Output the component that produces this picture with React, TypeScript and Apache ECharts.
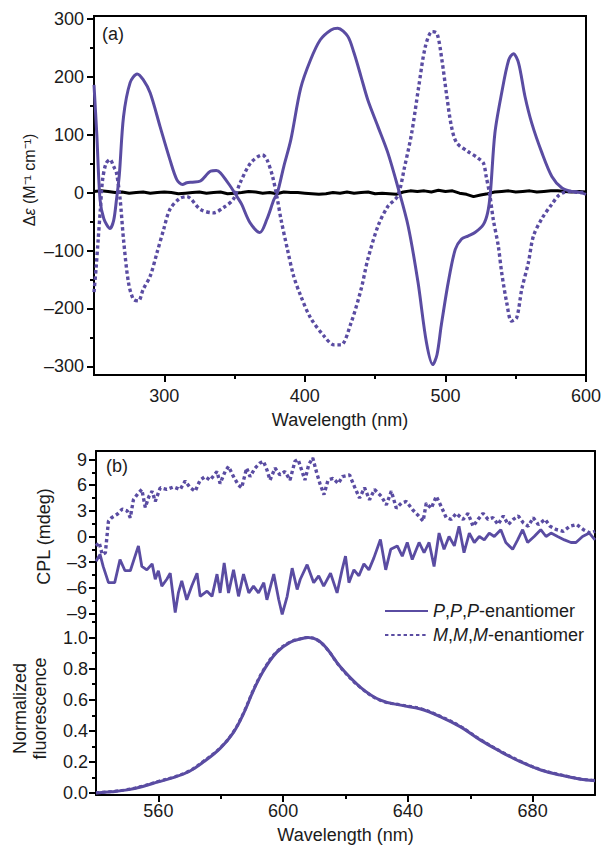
import React, { useEffect, useRef } from 'react';
import * as echarts from 'echarts';

const PURPLE = '#5a4ca2';
const FONT = '"Liberation Sans", Arial, Helvetica, sans-serif';
const TXT = '#1b1b1b';

// ---------- Panel (a): CD spectra ----------
const cdTicksX = [300, 400, 500, 600];
const cdMinorX = [350, 450, 550];
const cdTicksY = [-300, -200, -100, 0, 100, 200, 300];
const cdMinorY = [-250, -150, -50, 50, 150, 250];

const cdWaveP = [250, 252, 254.3, 257, 261.4, 264, 266, 268, 271, 275.7, 280.7, 285, 290, 297, 304, 309, 313, 316, 320, 325.7, 333, 337, 340, 347, 352, 355, 361, 368, 373, 378, 380.5, 385, 390, 397, 404, 411, 418.6, 423.4, 430.5, 435, 440, 444.8, 452, 459, 466, 473.5, 480.5, 486.5, 491, 494, 497, 502, 507, 511.5, 516, 521, 527, 530, 532, 535.2, 540, 545, 548.4, 552, 556.6, 561.4, 568.6, 575.7, 582.9, 590, 596, 600];
const cdValP = [186, 100, -12, -45, -62, -48, -12, 30, 131, 190, 205, 195, 172, 114, 57, 22, 14, 17, 18, 20, 37, 38, 34, 11, -8, -20, -52, -69, -46, -12, 0, 45, 91, 180, 229, 264, 281, 284, 270, 241, 200, 160, 114, 69, 11, -58, -155, -259, -297, -280, -230, -155, -98, -80, -75, -69, -55, -35, 0, 103, 172, 229, 240, 224, 166, 120, 69, 28, 8, 2, 0, -3];

const cdWaveM = [250, 251.5, 253, 254.5, 256, 258.5, 261.4, 264, 266, 268.6, 271, 274.5, 278, 281.6, 285, 290, 294.8, 299.5, 304, 311, 316, 325.7, 335, 342, 349, 354, 361.4, 369.8, 373, 377, 380.5, 383, 387.6, 392, 397, 404, 413.7, 420.8, 425.7, 433, 440, 444.8, 452, 459, 466, 471, 476, 481, 485.7, 490.5, 494, 497.5, 501, 504.3, 508, 516, 523, 527, 529, 531.7, 534, 537.6, 540, 543.6, 547, 550.7, 554.3, 559, 562.6, 568.6, 575.7, 580.5, 585, 590, 595, 600];
const cdValM = [-172, -130, -80, -30, 20, 50, 57, 45, 34, -12, -81, -155, -184, -187, -167, -144, -104, -64, -29, -10, -7, -29, -35, -26, -12, 17, 51, 65, 57, 28, -12, -46, -98, -144, -178, -216, -248, -263, -263, -224, -167, -115, -58, -24, -6, 45, 103, 183, 252, 278, 275, 229, 166, 114, 86, 71, 60, 51, 28, -6, -46, -92, -138, -190, -222, -216, -167, -121, -75, -45, -20, -5, 1, 2, 0, 1];

const cdWaveBase = [250, 255, 260, 265, 270, 275, 280, 285, 290, 295, 300, 305, 310, 315, 320, 325, 330, 335, 340, 345, 350, 355, 360, 365, 370, 375, 380, 385, 390, 395, 400, 405, 410, 415, 420, 425, 430, 435, 440, 445, 450, 455, 460, 465, 470, 475, 480, 485, 490, 495, 500, 505, 510, 515, 520, 525, 530, 535, 540, 545, 550, 555, 560, 565, 570, 575, 580, 585, 590, 595, 600];
const cdValBase = [2, 3, 2, 0, 1, -1, 0, 1, -1, 0, 1, 0, -2, -1, 0, 1, -1, 0, 1, -2, -1, 0, 2, 1, -1, 0, -2, 1, 0, 0, -1, -2, -3, -2, 0, -1, 1, -1, 0, 1, -2, -1, -2, -3, 1, 3, 2, 3, 1, 4, 2, 3, -1, -3, -7, -4, -2, 1, 2, 3, 1, 2, 3, 1, 2, 3, 3, 2, 1, 2, 1];

// ---------- Panel (b): CPL ----------
const cplTicksX = [560, 600, 640, 680];
const cplMinorX = [580, 620, 660];
const cplTicksY = [-9, -6, -3, 0, 3, 6, 9];
const cplMinorY = [-7.5, -4.5, -1.5, 1.5, 4.5, 7.5];

const cplWaveP = [540, 541.3, 542.3, 544, 546, 547.7, 549.3, 551, 553.6, 554.7, 556.3, 558, 559, 560, 561.1, 562.7, 563.8, 565.4, 566.4, 567.5, 569.1, 570.7, 572.4, 573.4, 575.6, 577.2, 578.8, 579.8, 581.1, 582.5, 584.1, 585.7, 587.3, 589, 590.5, 592.1, 593.8, 594.8, 597, 598.6, 599.7, 601.3, 602.9, 604.5, 605.5, 607.7, 609.8, 611.4, 613, 615.2, 617.3, 618.9, 620, 621.1, 622.7, 624.3, 625.9, 627.5, 629.1, 631.2, 632.9, 634.5, 636.6, 638.2, 639.8, 641.4, 643.6, 645.2, 646.8, 648.4, 650, 651.6, 653.2, 654.9, 656.4, 658, 659.7, 661.3, 662.9, 664.5, 666.1, 667.7, 669.8, 671.4, 673.6, 675.2, 676.8, 678.4, 680.5, 682.6, 684.3, 685.9, 688, 690.2, 692.3, 693.9, 696, 698.2, 700];
const cplValP = [-2.9, -2.1, -3.5, -5.4, -5.4, -2.7, -4.0, -4.0, -1.1, -3.5, -3.9, -3.2, -5.0, -4.0, -5.8, -5.0, -4.3, -8.9, -6.6, -5.2, -7.4, -5.8, -4.3, -7.0, -6.4, -7.0, -4.4, -6.6, -3.1, -6.6, -3.9, -7.0, -4.4, -6.6, -5.8, -6.6, -5.4, -7.4, -4.4, -7.4, -9.1, -7.0, -3.7, -6.2, -5.0, -3.3, -5.4, -4.6, -5.8, -4.3, -6.6, -3.9, -2.3, -5.4, -3.9, -4.6, -3.2, -3.9, -2.5, -0.35, -3.9, -1.5, -1.1, -2.3, -0.7, -2.7, -0.7, -1.9, -0.7, -3.5, 0.4, -1.5, 0.0, -1.1, 1.2, -1.9, 0.4, -0.7, 0, -0.4, 0.4, 0, 0.8, -0.7, -1.5, -0.4, 0.8, -0.7, 0, 0.8, 0, 0.4, 0, -0.4, -0.7, -0.7, 0, 0.4, -0.4];

const cplWaveM = [540, 541, 542, 543, 544, 545, 546.8, 548.4, 550, 551, 552, 553.6, 554.7, 555.8, 557, 558, 559, 560.6, 562.7, 564.9, 567, 568.6, 570.2, 571.8, 573.4, 575, 576.6, 578.8, 579.8, 581.4, 582.5, 584.1, 585.7, 586.7, 588.3, 589.4, 591, 592.6, 593.7, 594.8, 595.8, 597.4, 599, 600.6, 602.2, 603.8, 604.8, 607, 608.2, 609.5, 610.8, 611.8, 613.1, 614.4, 616, 617.7, 619, 621.3, 622.9, 624.5, 626.1, 627.7, 629.3, 631.5, 633.1, 634.7, 636.3, 637.9, 639.5, 641.6, 643.2, 644.9, 645.9, 647.5, 649.1, 650.7, 652.3, 653.9, 655.5, 657.7, 659.3, 660.9, 662.5, 664.1, 665.7, 667.3, 668.9, 670.6, 672.2, 673.8, 675.4, 677, 678.6, 680.2, 681.8, 684, 685.6, 687.7, 689.8, 692, 694.1, 696.3, 698.4, 700];
const cplValM = [-1.1, -0.7, -2.1, -1.9, 1.8, 2.2, 2.6, 3.2, 3.0, 2.2, 4.3, 5.1, 5.5, 3.4, 4.7, 5.3, 4.1, 5.7, 5.5, 5.8, 5.5, 6.5, 5.7, 5.3, 6.6, 7.0, 6.6, 7.6, 6.2, 7.6, 8.2, 7.0, 6.0, 5.7, 8.0, 7.0, 8.0, 8.6, 8.8, 7.8, 6.6, 8.0, 7.2, 7.6, 6.6, 8.8, 9.0, 6.6, 8.4, 9.2, 7.4, 6.2, 4.9, 6.6, 6.8, 6.2, 7.0, 7.2, 5.8, 4.5, 5.7, 4.3, 5.5, 4.7, 3.7, 5.3, 3.3, 3.9, 4.1, 3.1, 2.5, 1.8, 3.9, 3.3, 4.7, 3.5, 2.2, 2.0, 2.7, 2.0, 2.7, 1.2, 2.0, 2.7, 2.0, 2.2, 1.4, 2.4, 1.4, 2.0, 2.4, 1.6, 1.2, 2.2, 1.4, 2.0, 1.2, 0.8, 0.6, 1.2, 1.4, 0.8, 0.4, 0.6];

// ---------- Panel (b): fluorescence ----------
const fluTicksY = [0, 0.2, 0.4, 0.6, 0.8, 1.0];
const fluMinorY = [0.1, 0.3, 0.5, 0.7, 0.9, 1.1];
const fluWave = [540, 545, 550, 555, 560, 565, 570, 574.5, 579.8, 584.1, 587.3, 590.5, 593.8, 598, 602.3, 605.5, 608, 611, 614, 618.4, 624.8, 631.2, 637.7, 644.1, 650.5, 656.9, 663.3, 669.8, 676.2, 682.6, 689, 695.4, 700];
const fluP = [0.0, 0.008, 0.02, 0.042, 0.072, 0.1, 0.14, 0.2, 0.287, 0.39, 0.51, 0.66, 0.79, 0.906, 0.97, 0.99, 1.0, 0.985, 0.93, 0.81, 0.68, 0.597, 0.565, 0.54, 0.49, 0.425, 0.34, 0.265, 0.2, 0.148, 0.115, 0.088, 0.079];
const fluM = [0.002, 0.01, 0.022, 0.045, 0.075, 0.103, 0.143, 0.205, 0.29, 0.395, 0.515, 0.665, 0.795, 0.91, 0.972, 0.992, 1.0, 0.983, 0.928, 0.808, 0.678, 0.595, 0.567, 0.543, 0.493, 0.428, 0.343, 0.268, 0.203, 0.15, 0.117, 0.09, 0.081];

const NAME_P = 'P,P,P-enantiomer';
const NAME_M = 'M,M,M-enantiomer';

const zip = (xs: number[], ys: number[]) => xs.map((x, i) => [x, ys[i]]);
const fmtNeg = (v: number) => (v < 0 ? '\u2013' + Math.abs(v) : String(v));

export default function App() {
  const ref = useRef<HTMLDivElement>(null);
  useEffect(() => {
    document.body.style.margin = '0';
    const chart = echarts.init(ref.current as HTMLDivElement, null, { renderer: 'svg' });
    const lbl = { fontFamily: FONT, fontSize: 18, color: TXT };
    const axLine = { show: true, onZero: false, lineStyle: { color: '#000', width: 2 } };
    const noLine = { show: false, onZero: false };
    const ticks = (vals: number[], len: number) => ({
      show: true, customValues: vals, length: len, inside: false,
      lineStyle: { color: '#000', width: 2 },
    });
    const none = { show: false };
    const dotted = [3.4, 2.8];

    const majorX = (grid: number, min: number, max: number, vals: number[], margin: number, nameGap: number) => ({
      type: 'value', gridIndex: grid, position: 'bottom', min, max,
      axisLine: axLine, axisTick: ticks(vals, 7),
      axisLabel: { ...lbl, customValues: vals, margin },
      splitLine: none,
      name: 'Wavelength (nm)', nameLocation: 'middle', nameGap, nameTextStyle: lbl,
    });
    const minorAx = (grid: number, pos: string, min: number, max: number, vals: number[]) => ({
      type: 'value', gridIndex: grid, position: pos, min, max,
      axisLine: noLine, axisTick: ticks(vals, 4), axisLabel: none, splitLine: none,
    });
    const frameAx = (grid: number, pos: string, min: number, max: number) => ({
      type: 'value', gridIndex: grid, position: pos, min, max,
      axisLine: axLine, axisTick: none, axisLabel: none, splitLine: none,
    });
    const lineSeries = (name: string, xi: number, yi: number, data: number[][], width: number, dash: boolean, smooth: number | boolean) => ({
      type: 'line', name, xAxisIndex: xi, yAxisIndex: yi, data,
      symbol: 'none', showSymbol: false, smooth,
      lineStyle: { color: PURPLE, width, type: dash ? dotted : 'solid', cap: 'butt' },
      itemStyle: { color: PURPLE },
    });

    const option: any = {
      animation: false,
      backgroundColor: '#fff',
      textStyle: { fontFamily: FONT },
      title: [
        { text: '(a)', left: 102, top: 25, padding: 0, textStyle: { ...lbl, fontWeight: 'normal' } },
        { text: '(b)', left: 106, top: 457, padding: 0, textStyle: { ...lbl, fontWeight: 'normal' } },
      ],
      graphic: [
        {
          type: 'text', x: 29, y: 180, rotation: Math.PI / 2,
          style: {
            text: '{g|\u0394}{e|\u03b5} (M\u207b\u00b9 cm\u207b\u00b9)',
            fontFamily: FONT, fontSize: 16, fill: TXT, align: 'center', verticalAlign: 'middle',
            rich: {
              g: { fontFamily: FONT, fontSize: 16, fill: TXT },
              e: { fontFamily: FONT, fontSize: 16, fill: TXT, fontStyle: 'italic' },
            },
          },
        },
      ],
      legend: {
        data: [NAME_P, NAME_M],
        orient: 'vertical', left: 384, top: 602, padding: 0,
        itemWidth: 43, itemHeight: 16, itemGap: 6,
        selectedMode: false,
        itemStyle: { opacity: 0 },
        textStyle: { ...lbl, rich: { i: { ...lbl, fontStyle: 'italic' } } },
        formatter: (n: string) => n.replace(/[PM](?=[,-])/g, (m) => '{i|' + m + '}'),
      },
      grid: [
        { left: 94, top: 16, width: 492, height: 359, show: true, borderColor: '#000', borderWidth: 2, backgroundColor: 'transparent', outerBoundsMode: 'none', containLabel: false },
        { left: 96, top: 451, width: 499, height: 171, outerBoundsMode: 'none', containLabel: false },
        { left: 96, top: 622, width: 499, height: 173, outerBoundsMode: 'none', containLabel: false },
      ],
      xAxis: [
        majorX(0, 250, 600, cdTicksX, 12, 36),
        minorAx(0, 'bottom', 250, 600, cdMinorX),
        frameAx(1, 'top', 540, 700),
        majorX(2, 540, 700, cplTicksX, 7, 31),
        minorAx(2, 'bottom', 540, 700, cplMinorX),
      ],
      yAxis: [
        {
          type: 'value', gridIndex: 0, position: 'left', min: -315, max: 305,
          axisLine: axLine, axisTick: ticks(cdTicksY, 7),
          axisLabel: { ...lbl, customValues: cdTicksY, margin: 10, formatter: fmtNeg },
          splitLine: none,
        },
        minorAx(0, 'left', -315, 305, cdMinorY),
        {
          type: 'value', gridIndex: 1, position: 'left', min: -10, max: 10,
          axisLine: axLine, axisTick: ticks(cplTicksY, 7),
          axisLabel: { ...lbl, customValues: cplTicksY, margin: 9, formatter: fmtNeg },
          splitLine: none,
          name: 'CPL (mdeg)', nameLocation: 'middle', nameGap: 43, nameTextStyle: lbl,
        },
        minorAx(1, 'left', -10, 10, cplMinorY),
        frameAx(1, 'right', -10, 10),
        {
          type: 'value', gridIndex: 2, position: 'left', min: -0.013, max: 1.1,
          axisLine: axLine, axisTick: ticks(fluTicksY, 7),
          axisLabel: { ...lbl, customValues: fluTicksY, margin: 8, formatter: (v: number) => v.toFixed(1) },
          splitLine: none,
          name: 'Normalized\nfluorescence', nameLocation: 'middle', nameGap: 46,
          nameTextStyle: { ...lbl, lineHeight: 20 },
        },
        minorAx(2, 'left', -0.013, 1.1, fluMinorY),
        frameAx(2, 'right', -0.013, 1.1),
      ],
      series: [
        {
          type: 'line', name: 'racemate', xAxisIndex: 0, yAxisIndex: 0, data: zip(cdWaveBase, cdValBase),
          symbol: 'none', lineStyle: { color: '#000', width: 3 }, itemStyle: { color: '#000' },
        },
        lineSeries(NAME_M, 0, 0, zip(cdWaveM, cdValM), 3.4, true, 0.3),
        lineSeries(NAME_P, 0, 0, zip(cdWaveP, cdValP), 3, false, 0.3),
        lineSeries(NAME_M, 2, 2, zip(cplWaveM, cplValM), 3.4, true, false),
        lineSeries(NAME_P, 2, 2, zip(cplWaveP, cplValP), 2.8, false, false),
        lineSeries(NAME_M, 3, 5, zip(fluWave, fluM), 3, true, 0.4),
        lineSeries(NAME_P, 3, 5, zip(fluWave, fluP), 3, false, 0.4),
      ],
    };
    chart.setOption(option);
    return () => chart.dispose();
  }, []);
  return <div ref={ref} style={{ width: 601, height: 848 }} />;
}
